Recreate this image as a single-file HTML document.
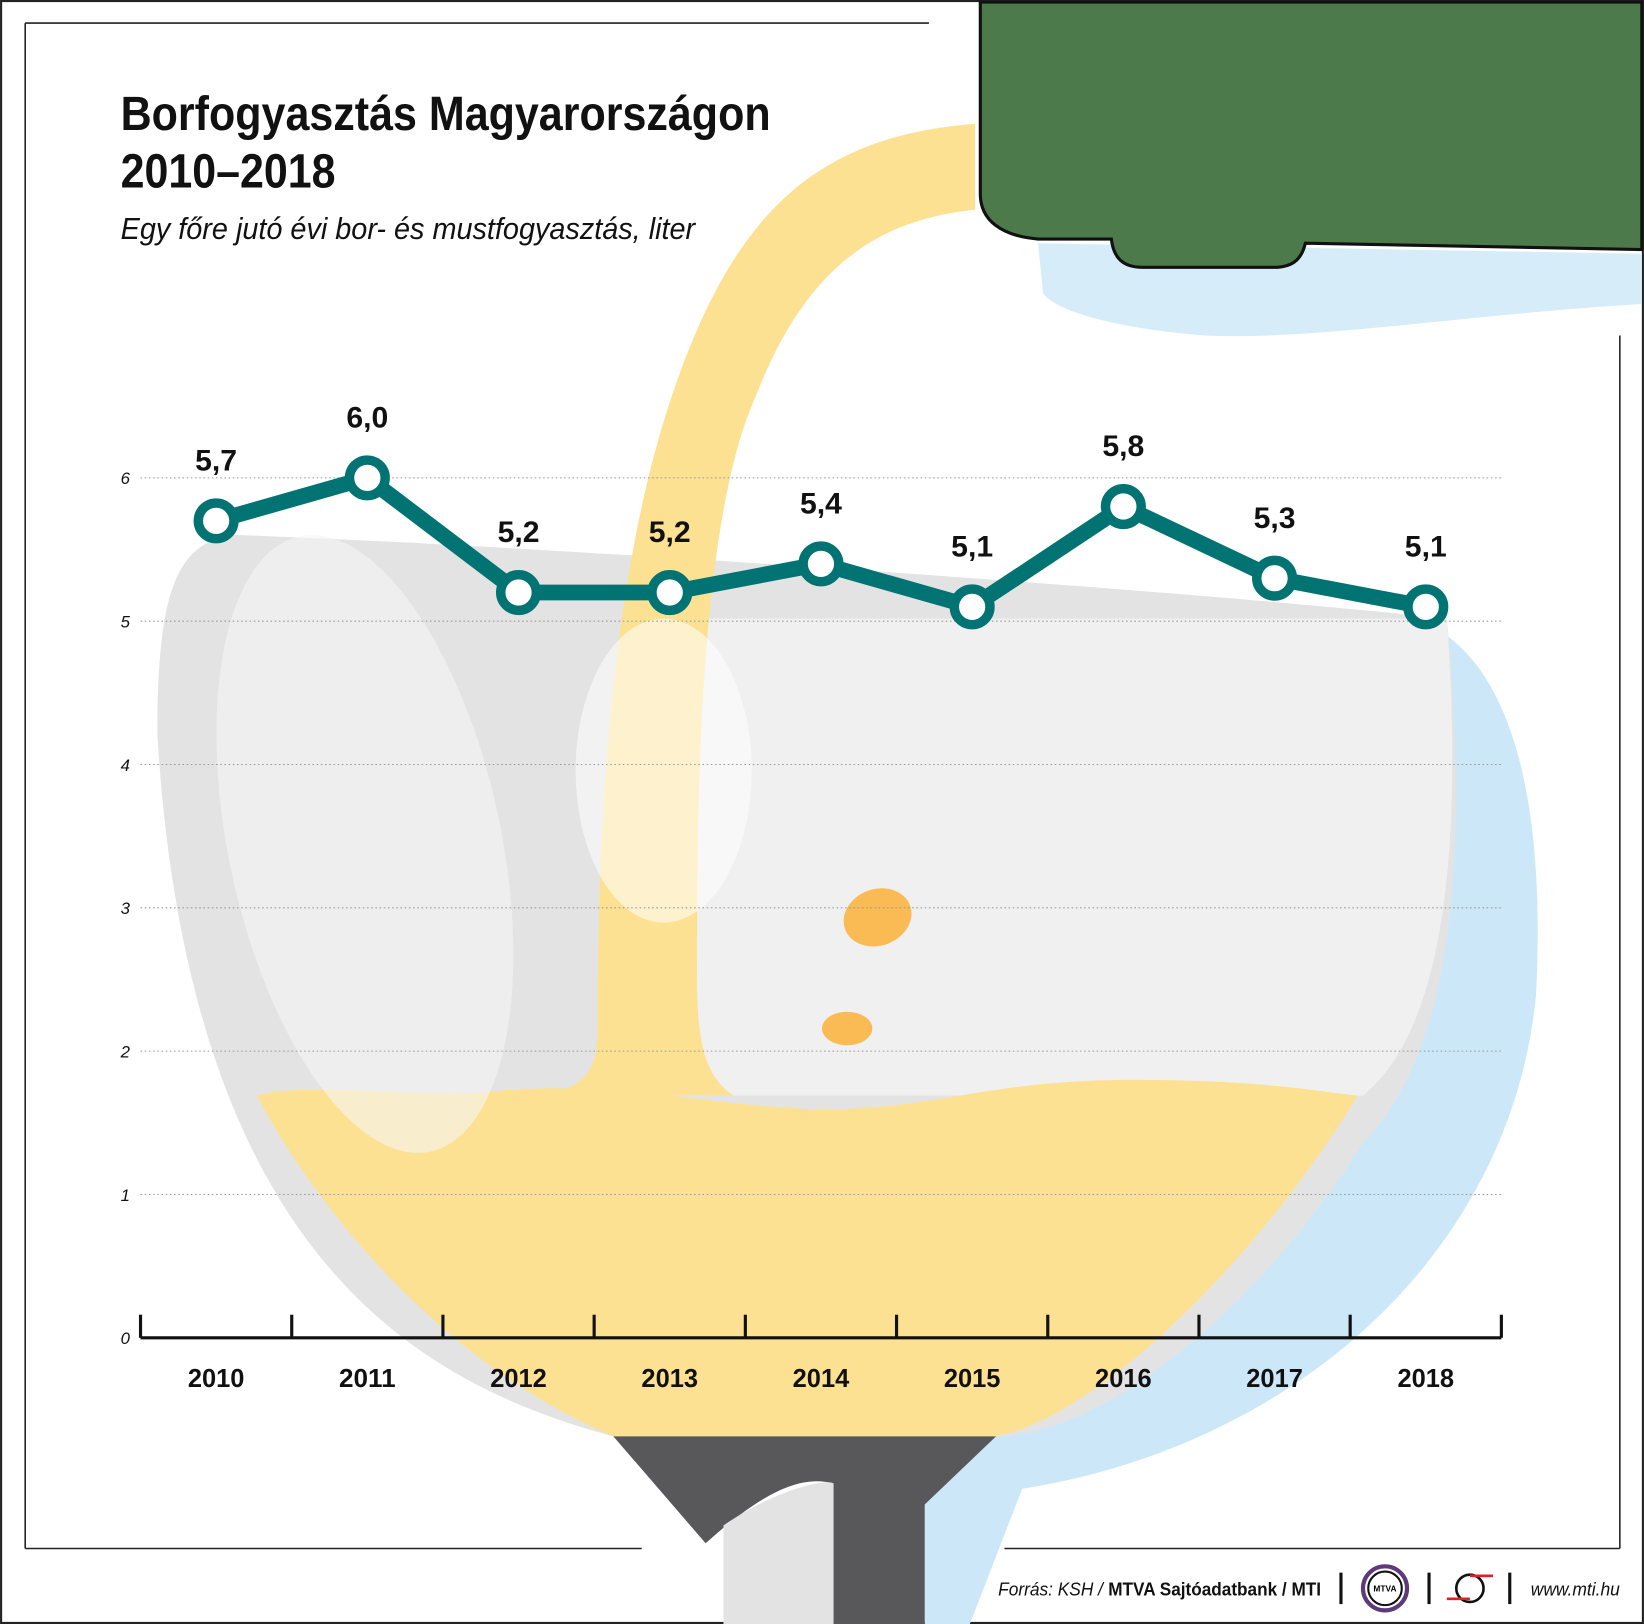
<!DOCTYPE html>
<html><head><meta charset="utf-8"><style>
html,body{margin:0;padding:0;background:#fff}
svg{display:block}
text{font-family:"Liberation Sans",sans-serif}
</style></head><body>
<svg width="1644" height="1624" viewBox="0 0 1568 1549" xmlns="http://www.w3.org/2000/svg">
<rect x="1" y="1" width="1566" height="1547" fill="#fff" stroke="#222" stroke-width="2"/>
<g>
  <path d="M1370 600 C1440 640 1475 760 1465 950 C1440 1200 1230 1380 975 1420 L925 1549 L882 1549 L882 1435 L950 1370 Z" fill="#cce8f8"/>
  <path d="M990 232 L1566 242 L1566 290 C1400 300 1250 325 1150 320 C1080 315 1010 300 995 280 Z" fill="#d6edf9"/>
  <path d="M150 700 C150 560 170 520 220 510 C500 520 1100 560 1380 590 C1400 800 1390 1000 1300 1090 C1200 1250 1050 1370 950 1370 L585 1370 C400 1320 180 1200 150 700 Z" fill="#e3e3e4"/>
  <path d="M660 590 L1380 590 C1395 800 1380 980 1300 1045 L660 1045 Z" fill="#f0f0f0"/>
  <path d="M245 1045 C300 1030 400 1050 480 1040 C600 1030 700 1060 800 1058 C900 1055 950 1030 1080 1030 C1200 1030 1250 1040 1295 1045 C1200 1200 1050 1350 950 1370 L585 1370 C420 1300 300 1150 245 1045 Z" fill="#fde192"/>
  <path d="M930 118 C780 130 700 200 640 380 C580 560 570 800 570 980 C570 1020 560 1035 520 1045 L700 1045 C660 1020 665 960 665 880 C665 650 680 470 720 380 C770 250 840 210 930 200 Z" fill="#fde192"/>
  <ellipse cx="348" cy="805" rx="130" ry="300" transform="rotate(-12 348 805)" fill="#f5f5f5" opacity="0.6"/>
  <ellipse cx="633" cy="735" rx="84" ry="145" fill="#fff" opacity="0.55"/>
  <ellipse cx="837" cy="875" rx="33" ry="27" transform="rotate(-20 837 875)" fill="#fbbb54"/>
  <ellipse cx="808" cy="981" rx="24" ry="16" fill="#fbbb54"/>
  <path d="M585 1370 L950 1370 L882 1435 L882 1549 L795 1549 L795 1415 C760 1405 720 1430 673 1472 Z" fill="#58585a"/>
  <path d="M690 1455 C740 1420 790 1410 795 1415 L795 1549 L690 1549 Z" fill="#e3e3e4"/>
  <path d="M935 2 L935 185 C935 210 955 225 990 228 L1060 228 C1062 245 1070 255 1090 255 L1215 255 C1235 255 1242 245 1245 232 L1566 238 L1566 2 Z" fill="#4d7a4a" stroke="#111" stroke-width="3"/>
</g>
<line x1="24" y1="22" x2="886" y2="22" stroke="#222" stroke-width="1.5"/>
<line x1="24" y1="22" x2="24" y2="1477" stroke="#222" stroke-width="1.5"/>
<line x1="24" y1="1477" x2="612" y2="1477" stroke="#222" stroke-width="1.5"/>
<line x1="958" y1="1477" x2="1545" y2="1477" stroke="#222" stroke-width="1.5"/>
<line x1="1545" y1="320" x2="1545" y2="1477" stroke="#222" stroke-width="1.5"/>
<text x="115" y="124" font-size="46" font-weight="bold" fill="#111" textLength="620" lengthAdjust="spacingAndGlyphs">Borfogyasztás Magyarországon</text>
<text x="115" y="179" font-size="46" font-weight="bold" fill="#111" textLength="205" lengthAdjust="spacingAndGlyphs">2010–2018</text>
<text x="115" y="228" font-size="29" font-style="italic" fill="#111" textLength="548" lengthAdjust="spacingAndGlyphs">Egy főre jutó évi bor- és mustfogyasztás, liter</text>
<g id="grid"></g>
<g id="axis"></g>
<g id="series"></g>
<g>
  <text x="952" y="1522" font-size="18" font-style="italic" fill="#111" textLength="100" lengthAdjust="spacingAndGlyphs">Forrás: KSH /</text>
  <text x="1057" y="1522" font-size="18" font-weight="bold" fill="#111" textLength="203" lengthAdjust="spacingAndGlyphs">MTVA Sajtóadatbank / MTI</text>
  <line x1="1279" y1="1500" x2="1279" y2="1530" stroke="#111" stroke-width="3"/>
  <circle cx="1321" cy="1515" r="21" fill="#fff" stroke="#5e3a7a" stroke-width="4"/>
  <circle cx="1321" cy="1515" r="16" fill="#fff" stroke="#111" stroke-width="2"/>
  <text x="1321" y="1518" font-size="8" text-anchor="middle" font-weight="bold">MTVA</text>
  <line x1="1363" y1="1500" x2="1363" y2="1530" stroke="#111" stroke-width="3"/>
  <circle cx="1402" cy="1515" r="13" fill="none" stroke="#111" stroke-width="2.5"/>
  <line x1="1380" y1="1525" x2="1402" y2="1525" stroke="#d22" stroke-width="2.5"/>
  <line x1="1402" y1="1503" x2="1424" y2="1503" stroke="#d22" stroke-width="2.5"/>
  <line x1="1440" y1="1500" x2="1440" y2="1530" stroke="#111" stroke-width="3"/>
  <text x="1460" y="1522" font-size="18" font-style="italic" fill="#111" textLength="85" lengthAdjust="spacingAndGlyphs">www.mti.hu</text>
</g>
<script>
const years = ["2010","2011","2012","2013","2014","2015","2016","2017","2018"];
const values = [5.7, 6.0, 5.2, 5.2, 5.4, 5.1, 5.8, 5.3, 5.1];
const labels = ["5,7","6,0","5,2","5,2","5,4","5,1","5,8","5,3","5,1"];
const yTicks = [0,1,2,3,4,5,6];
const NS = "http://www.w3.org/2000/svg";
const X0 = 134, X1 = 1432, Y0 = 1276, YPER = 136.7;
const step = (X1 - X0) / years.length;
function xs(i){ return X0 + step * (i + 0.5); }
function ys(v){ return Y0 - v * YPER; }
function mk(tag, attrs, parent){ const e = document.createElementNS(NS, tag); for (const k in attrs) e.setAttribute(k, attrs[k]); parent.appendChild(e); return e; }
const grid = document.getElementById('grid');
yTicks.forEach(t => {
  if (t > 0) {
    const l = mk('line', {x1: X0, x2: X1, y1: ys(t), y2: ys(t), stroke: '#999', 'stroke-width': 1, 'stroke-dasharray': '1.5 2.5'}, grid);
    
    
  }
  const tx = mk('text', {x: 115, y: ys(t) + 6, 'font-size': 16, 'font-style': 'italic', fill: '#111'}, grid);
  tx.textContent = t;
  
  
});
const axis = document.getElementById('axis');
const al = mk('line', {x1: X0, x2: X1, y1: Y0, y2: Y0, stroke: '#111', 'stroke-width': 3}, axis);


for (let i = 0; i <= years.length; i++) {
  const x = X0 + step * i;
  const tk = mk('line', {x1: x, x2: x, y1: Y0 - 22, y2: Y0, stroke: '#111', 'stroke-width': 3}, axis);
  
  
}
years.forEach((y, i) => {
  const t = mk('text', {x: xs(i), y: 1323, 'font-size': 25, 'font-weight': 'bold', 'text-anchor': 'middle', fill: '#111', textLength: 54, lengthAdjust: 'spacingAndGlyphs'}, axis);
  t.textContent = y;
  
  
});
const series = document.getElementById('series');
const pl = mk('polyline', {points: values.map((v, i) => xs(i) + ',' + ys(v)).join(' '), fill: 'none', stroke: '#007372', 'stroke-width': 15, 'stroke-linejoin': 'round'}, series);


values.forEach((v, i) => {
  const c = mk('circle', {cx: xs(i), cy: ys(v), r: 17, fill: '#fff', stroke: '#007372', 'stroke-width': 9}, series);
  
  
  const t = mk('text', {x: xs(i), y: ys(v) - 48, 'font-size': 28, 'font-weight': 'bold', 'text-anchor': 'middle', fill: '#111', textLength: 40, lengthAdjust: 'spacingAndGlyphs'}, series);
  t.textContent = labels[i];
  
  
});
</script>
</svg>
</body></html>
